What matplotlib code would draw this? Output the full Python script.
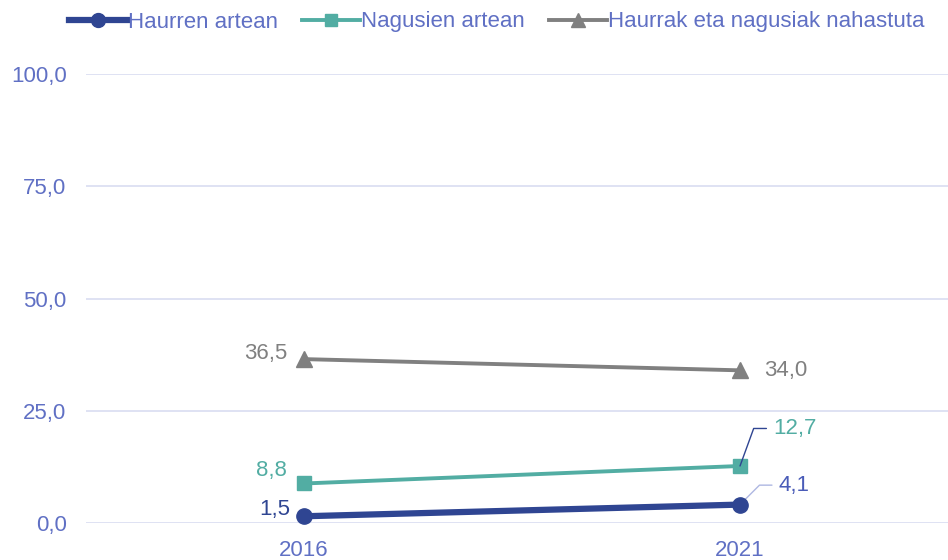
import matplotlib.pyplot as plt
from matplotlib.lines import Line2D

years = ["2016", "2021"]
haurren = [1.5, 4.1]
nagusien = [8.8, 12.7]
nahastuta = [36.5, 34.0]
series_names = ["Haurren artean", "Nagusien artean", "Haurrak eta nagusiak nahastuta"]
yticks = [0, 25, 50, 75, 100]

c_blue = "#2F4592"
c_teal = "#52ADA3"
c_gray = "#808080"
c_txt = "#6070C4"
c_grid = "#DCDFF2"

plt.rcParams['font.family'] = ['Liberation Sans', 'DejaVu Sans']

fig = plt.figure(figsize=(9.48, 5.6), dpi=100)
ax = fig.add_axes([86 / 948, 37 / 560, 862 / 948, 449 / 560])

x = list(range(len(years)))
ax.plot(x, nahastuta, color=c_gray, lw=2.8, marker="^", ms=11, clip_on=False, zorder=3)
ax.plot(x, nagusien, color=c_teal, lw=2.8, marker="s", ms=10, clip_on=False, zorder=3)
ax.plot(x, haurren, color=c_blue, lw=4.5, marker="o", ms=11, clip_on=False, zorder=4)


def fmt(v):
    return f"{v:.1f}".replace(".", ",")


ax.set_xlim(-0.5, 1.477)
ax.set_ylim(0, 100)
ax.set_yticks(yticks)
ax.set_yticklabels([fmt(v) for v in yticks])
ax.set_xticks(x)
ax.set_xticklabels(years)
ax.tick_params(length=0, labelsize=16, colors=c_txt)
ax.tick_params(axis="x", pad=12)
ax.tick_params(axis="y", pad=14)
for s in ax.spines.values():
    s.set_visible(False)
ax.grid(axis="y", color=c_grid, lw=1.3)
ax.set_axisbelow(True)

fs = 16
# 2016 labels, left of the points
ax.annotate(fmt(nahastuta[0]), (0, nahastuta[0]), xytext=(-12, 4), textcoords="offset points",
            ha="right", va="center", color=c_gray, fontsize=fs)
ax.annotate(fmt(nagusien[0]), (0, nagusien[0]), xytext=(-12, 9), textcoords="offset points",
            ha="right", va="center", color=c_teal, fontsize=fs)
ax.annotate(fmt(haurren[0]), (0, haurren[0]), xytext=(-10, 5), textcoords="offset points",
            ha="right", va="center", color=c_blue, fontsize=fs)
# 2021 labels
ax.annotate(fmt(nahastuta[1]), (1, nahastuta[1]), xytext=(17, 0), textcoords="offset points",
            ha="left", va="center", color=c_gray, fontsize=fs)
ax.annotate(fmt(nagusien[1]), (1, nagusien[1]), xytext=(24, 27), textcoords="offset points",
            ha="left", va="center", color=c_teal, fontsize=fs)
ax.annotate(fmt(haurren[1]), (1, haurren[1]), xytext=(28, 14), textcoords="offset points",
            ha="left", va="center", color="#4A5CB8", fontsize=fs)
# leader lines
ax.annotate("", (1, nagusien[1]), xytext=(19, 27), textcoords="offset points",
            arrowprops=dict(arrowstyle="-", color=c_blue, lw=1.0, shrinkA=0, shrinkB=0,
                            connectionstyle="angle,angleA=0,angleB=70,rad=0"))
ax.annotate("", (1, haurren[1]), xytext=(23, 14), textcoords="offset points",
            arrowprops=dict(arrowstyle="-", color="#AEB7E2", lw=1.0, shrinkA=0, shrinkB=0,
                            connectionstyle="angle,angleA=0,angleB=45,rad=0"))

handles = [
    Line2D([], [], color=c_blue, lw=4.5, marker="o", ms=10),
    Line2D([], [], color=c_teal, lw=2.8, marker="s", ms=9),
    Line2D([], [], color=c_gray, lw=2.8, marker="^", ms=10),
]
fig.legend(handles, series_names, loc="center", bbox_to_anchor=(0.524, 1 - 22 / 560), ncol=3,
           frameon=False, fontsize=16, labelcolor=c_txt, handlelength=2.6,
           handletextpad=0.05, columnspacing=1.1, borderpad=0)

fig.savefig("out.png", dpi=100)
